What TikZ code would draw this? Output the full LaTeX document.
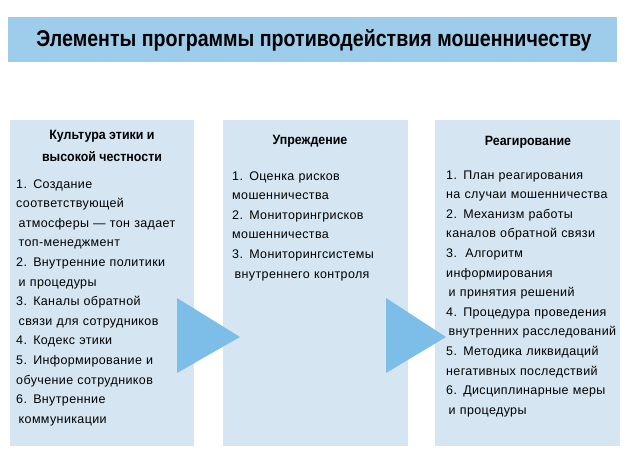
\documentclass[tikz,border=0pt]{standalone}
\usepackage{fontspec}
\setmainfont{Liberation Sans}
\newfontfamily\hdfont[FakeStretch=0.86]{Liberation Sans}
\newfontfamily\subfont[FakeStretch=0.92]{Liberation Sans}
\newfontfamily\bodyfont[LetterSpace=3]{Liberation Sans}
\usetikzlibrary{positioning}

\definecolor{barblue}{RGB}{158,204,235}
\definecolor{colblue}{RGB}{213,230,242}
\definecolor{arrblue}{RGB}{125,190,232}
\newcommand{\ind}{\hspace*{2.5pt}}

\begin{document}
\begin{tikzpicture}
	[x=1pt, y=-1pt,
	 column/.style={fill=colblue, draw=none},
	 head/.style={font=\subfont\bfseries\fontsize{13.5}{22}\selectfont, align=center, inner sep=0pt, anchor=base},
	 body/.style={font=\bodyfont\fontsize{12.5}{19.6}\selectfont, text width=180pt, align=left, inner sep=0pt, anchor=base west}]
	\useasboundingbox (0,0) rectangle (630,461);
	% title
	\fill[barblue] (8,17) rectangle (617,62);
	\node[font=\hdfont\bfseries\fontsize{22.8}{26}\selectfont, inner sep=0pt] (title) at (314,40) {Элементы программы противодействия мошенничеству};
	% columns
	\fill[column] (10,120) rectangle (194,446);
	\fill[column] (223,120) rectangle (408,446);
	\fill[column] (435,120) rectangle (620,446);
	% arrows
	\fill[arrblue] (177,298) -- (240,337) -- (177,373) -- cycle;
	\fill[arrblue] (386,298) -- (446,337) -- (386,373) -- cycle;
	% headers
	\node[head] (h1) at (102,161) {Культура этики и\\высокой честности};
	\node[head] (h2) at (310,144) {Упреждение};
	\node[head] (h3) at (528,145) {Реагирование};
	% lists
	\node[body] (l1) at (16,188) {1. Создание\\соответствующей\\\ind атмосферы — тон задает\\\ind топ-менеджмент\\2. Внутренние политики\\\ind и процедуры\\3. Каналы обратной\\\ind связи для сотрудников\\4. Кодекс этики\\5. Информирование и\\обучение сотрудников\\6. Внутренние\\\ind коммуникации};
	\node[body] (l2) at (232,180) {1. Оценка рисков\\мошенничества\\2. Мониторингрисков\\мошенничества\\3. Мониторингсистемы\\\ind внутреннего контроля};
	\node[body] (l3) at (446,179) {1. План реагирования\\на случаи мошенничества\\2. Механизм работы\\каналов обратной связи\\3.\ \ Алгоритм\\информирования\\\ind и принятия решений\\4. Процедура проведения\\\ind внутренних расследований\\5. Методика ликвидаций\\негативных последствий\\6. Дисциплинарные меры\\\ind и процедуры};
\end{tikzpicture}
\end{document}
